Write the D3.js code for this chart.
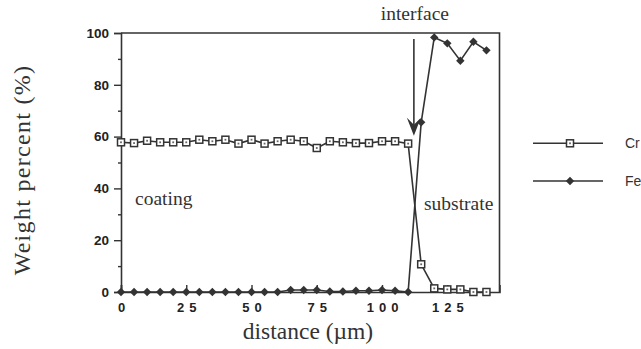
<!DOCTYPE html>
<html><head><meta charset="utf-8">
<script src="https://cdn.jsdelivr.net/npm/d3@7"></script>
<style>body{margin:0;background:#fff}svg{display:block}</style>
</head><body>
<svg id="c" width="641" height="349"></svg>
<script>
const distance = [0,5,10,15,20,25,30,35,40,45,50,55,60,65,70,75,80,85,90,95,100,105,110,115,120,125,130,135,140];
const crValues = [57.8,57.5,58.4,57.8,57.8,57.8,58.8,58.2,58.8,57.3,58.8,57.3,58.2,58.8,58.2,55.6,58.2,57.8,57.5,57.5,58.2,58.2,57.3,10.7,1.4,1.0,1.0,0,0];
const feValues = [0,0,0,0,0,0,0,0,0,0,0,0,0,0.8,0.8,0.8,0.2,0.2,0.5,0.5,0.8,0.5,0,65.5,98.3,96,89.3,96.6,93.3];
const yTicks = [0,20,40,60,80,100];
const yMinor = [10,30,50,70,90];
const xTicks = [0,25,50,75,100,125];
const seriesNames = ["Cr","Fe"];
const arrow = {x:112.2, top:97.7, tip:60.3};

const svg = d3.select("#c");
const ink = "#333";
const x = d3.scaleLinear().domain([0,145]).range([121,499.5]);
const y = d3.scaleLinear().domain([0,100]).range([292,33]);

// frame top & right
svg.append("path").attr("d",`M${x(0)},${y(100)}H${x(145)}V${y(0)}`)
  .attr("fill","none").attr("stroke",ink).attr("stroke-width",1.6);

// Y axis
const yAx = svg.append("g").attr("transform",`translate(${x(0)},0)`)
  .call(d3.axisLeft(y).tickValues(yTicks).tickSize(7).tickPadding(5).tickFormat(d3.format("d")));
yAx.select(".domain").attr("stroke",ink).attr("stroke-width",1.6);
yAx.selectAll(".tick line").attr("stroke",ink).attr("stroke-width",1.4);
yAx.selectAll("text").attr("fill","#222").style("font-family","Liberation Sans, Arial, sans-serif")
  .style("font-size","13.5px").style("font-weight","bold");
const yMin = svg.append("g").attr("transform",`translate(${x(0)},0)`)
  .call(d3.axisLeft(y).tickValues(yMinor).tickSize(3).tickFormat(""));
yMin.select(".domain").remove();
yMin.selectAll(".tick line").attr("stroke",ink).attr("stroke-width",1.4);

// X axis
const xAx = svg.append("g").attr("transform",`translate(0,${y(0)})`)
  .call(d3.axisBottom(x).tickValues(xTicks).tickSize(-7).tickPadding(0).tickFormat(d3.format("d")));
xAx.select(".domain").attr("stroke",ink).attr("stroke-width",1.6);
xAx.selectAll(".tick line").attr("stroke",ink).attr("stroke-width",1.4);
xAx.selectAll("text").attr("fill","#222").attr("y",20).attr("dy",0).attr("dx",2.5)
  .style("font-family","Liberation Sans, Arial, sans-serif")
  .style("font-size","13px").style("font-weight","bold").style("letter-spacing","5px");

// lines
const rows = distance.map((d,i)=>({d, cr:crValues[i], fe:feValues[i]}));
const lineCr = d3.line().x(r=>x(r.d)).y(r=>y(r.cr));
const lineFe = d3.line().x(r=>x(r.d)).y(r=>y(r.fe));
svg.append("path").attr("d",lineFe(rows)).attr("fill","none").attr("stroke",ink).attr("stroke-width",1.6);
svg.append("path").attr("d",lineCr(rows)).attr("fill","none").attr("stroke",ink).attr("stroke-width",1.6);

function crMarker(g,cx,cy){
  g.append("rect").attr("x",cx-3.5).attr("y",cy-3.5).attr("width",7).attr("height",7)
    .attr("fill","#fff").attr("stroke",ink).attr("stroke-width",1.5);
  g.append("rect").attr("x",cx-0.9).attr("y",cy-0.9).attr("width",1.8).attr("height",1.8).attr("fill","#666");
}
function feMarker(g,cx,cy){
  g.append("path").attr("d",`M${cx},${cy-4.2}L${cx+4.2},${cy}L${cx},${cy+4.2}L${cx-4.2},${cy}Z`).attr("fill",ink);
}
const gFe = svg.append("g");
rows.forEach(r=>feMarker(gFe,x(r.d),y(r.fe)));
const gCr = svg.append("g");
rows.forEach(r=>crMarker(gCr,x(r.d),y(r.cr)));

// interface arrow
const ax = x(arrow.x), aTop = y(arrow.top), aTip = y(arrow.tip);
svg.append("line").attr("x1",ax).attr("x2",ax).attr("y1",aTop).attr("y2",aTip-8)
  .attr("stroke",ink).attr("stroke-width",1.6);
svg.append("path").attr("d",`M${ax},${aTip}L${ax-7},${aTip-18}L${ax},${aTip-11}L${ax+7},${aTip-18}Z`).attr("fill",ink);

// annotations
const serif = "Liberation Serif, Times New Roman, serif";
svg.append("text").attr("x",ax+1).attr("y",20).attr("text-anchor","middle")
  .style("font-family",serif).style("font-size","19.5px").attr("fill","#333").text("interface");
svg.append("text").attr("x",135).attr("y",205)
  .style("font-family",serif).style("font-size","19.5px").attr("fill","#333").text("coating");
svg.append("text").attr("x",424).attr("y",210)
  .style("font-family",serif).style("font-size","19.5px").attr("fill","#333").text("substrate");

// axis titles
svg.append("text").attr("transform","translate(30,170) rotate(-90)").attr("text-anchor","middle")
  .style("font-family",serif).style("font-size","24px").style("letter-spacing","1.3px")
  .attr("fill","#333").text("Weight percent (%)");
svg.append("text").attr("x",308).attr("y",339).attr("text-anchor","middle")
  .style("font-family",serif).style("font-size","23.5px").attr("fill","#333").text("distance (µm)");

// legend
const legY = [143.3,181];
const lg = svg.append("g");
seriesNames.forEach((name,i)=>{
  lg.append("line").attr("x1",533).attr("x2",603).attr("y1",legY[i]).attr("y2",legY[i]).attr("stroke",ink).attr("stroke-width",1.6);
  if(i===0) crMarker(lg,570,legY[i]); else feMarker(lg,570,legY[i]);
  lg.append("text").attr("x",625).attr("y",legY[i]).attr("dy","0.35em")
    .style("font-family","Liberation Sans, Arial, sans-serif").style("font-size","14px").attr("fill","#333").text(name);
});
</script>
</body></html>
